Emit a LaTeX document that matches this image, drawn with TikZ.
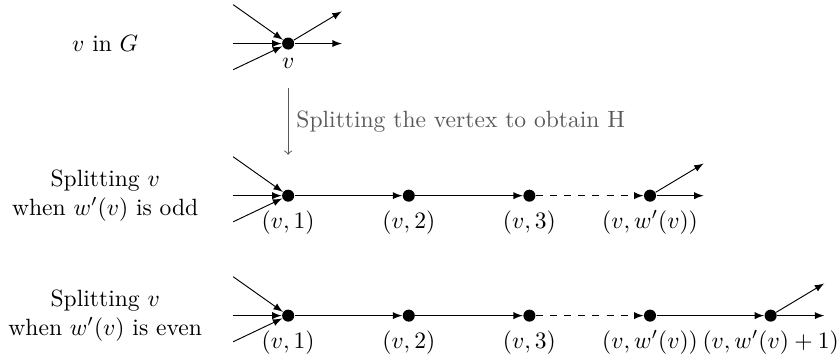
\documentclass[tikz,border=0pt]{standalone}
\tikzset{dot/.style={circle,fill,inner sep=0pt,minimum size=.18cm},
  edge/.style={-latex}}
\begin{document}
\begin{tikzpicture}[x=1cm,y=1cm]
\useasboundingbox (0,0) rectangle (12.52,5.43);
% the vertex in G
\node (gtext) at (1.57,4.78){$v$ in $G$};
\node[dot,label=below:$v$] (v) at (4.3,4.78){};
\foreach \n/\y in {1/5.36,2/4.78,3/4.39}{\coordinate (vin\n) at (3.48,\y);\draw[edge] (vin\n) -- (v);}
\foreach \n/\y in {1/4.78,2/5.26}{\coordinate (vout\n) at (5.1,\y);\draw[edge] (v) -- (vout\n);}
\coordinate (s1) at (4.3,4.12);\coordinate (s2) at (4.3,3.12);
\draw[->,black!65] (s1) -- (s2) node[midway,right,text=black!65]{Splitting the vertex to obtain H};
% odd case
\node[align=center] (oddtext) at (1.57,2.51){Splitting $v$\\when $w'(v)$ is odd};
\foreach \i/\x/\t in {1/4.3/1,2/6.1/2,3/7.9/3,4/9.7/{w'(v)}}{\node[dot,label=below:{$(v,\t)$}] (a\i) at (\x,2.51){};}
\foreach \n/\y in {1/3.09,2/2.51,3/2.12}{\coordinate (ain\n) at (3.48,\y);\draw[edge] (ain\n) -- (a1);}
\draw[edge] (a1) -- (a2);\draw[edge] (a2) -- (a3);\draw[edge,dashed] (a3) -- (a4);
\foreach \n/\y in {1/2.51,2/2.99}{\coordinate (aout\n) at (10.5,\y);\draw[edge] (a4) -- (aout\n);}
% even case
\node[align=center] (eventext) at (1.57,.72){Splitting $v$\\when $w'(v)$ is even};
\foreach \i/\x/\t in {1/4.3/1,2/6.1/2,3/7.9/3,4/9.7/{w'(v)},5/11.5/{w'(v)+1}}{\node[dot,label=below:{$(v,\t)$}] (b\i) at (\x,.72){};}
\foreach \n/\y in {1/1.30,2/.72,3/.33}{\coordinate (bin\n) at (3.48,\y);\draw[edge] (bin\n) -- (b1);}
\draw[edge] (b1) -- (b2);\draw[edge] (b2) -- (b3);\draw[edge,dashed] (b3) -- (b4);\draw[edge] (b4) -- (b5);
\foreach \n/\y in {1/.72,2/1.2}{\coordinate (bout\n) at (12.3,\y);\draw[edge] (b5) -- (bout\n);}
\end{tikzpicture}
\end{document}
